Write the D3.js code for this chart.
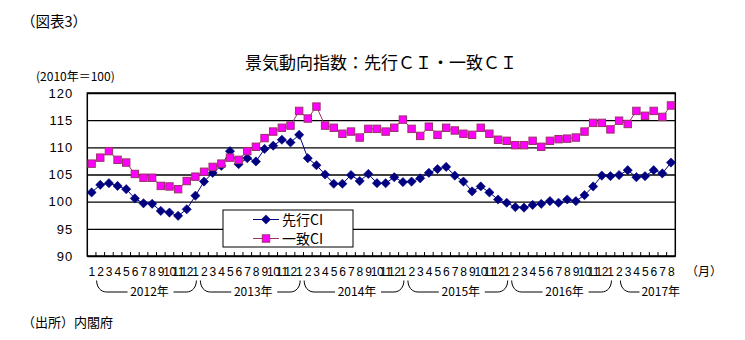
<!DOCTYPE html>
<html>
<head>
<meta charset="utf-8">
<script src="https://cdn.jsdelivr.net/npm/d3@7"></script>
<style>
  html, body { margin: 0; padding: 0; background: #fff; }
  svg { display: block; }
  text { font-family: "Noto Sans CJK JP", "Noto Sans", sans-serif; fill: #000; }
</style>
</head>
<body>
<svg id="chart" width="745" height="340"></svg>
<script>
// Monthly tick labels, Jan 2012 – Aug 2017
const monthTicks = [
  1,2,3,4,5,6,7,8,9,10,11,12,
  1,2,3,4,5,6,7,8,9,10,11,12,
  1,2,3,4,5,6,7,8,9,10,11,12,
  1,2,3,4,5,6,7,8,9,10,11,12,
  1,2,3,4,5,6,7,8,9,10,11,12,
  1,2,3,4,5,6,7,8
];
const yearLabels = ["2012年", "2013年", "2014年", "2015年", "2016年", "2017年"];
const yTicks = [90, 95, 100, 105, 110, 115, 120];

// 先行CI (leading index, 2010=100)
const leadingCI = [
  101.7, 103.1, 103.4, 102.9, 102.3, 100.6, 99.7, 99.6, 98.3, 98.0, 97.4, 98.6,
  101.1, 103.7, 105.3, 106.6, 109.3, 106.9, 108.0, 107.4, 109.7, 110.3, 111.4, 110.9,
  112.3, 108.0, 106.7, 105.0, 103.3, 103.3, 104.9, 103.8, 105.1, 103.4, 103.4, 104.5,
  103.6, 103.7, 104.3, 105.3, 106.0, 106.4, 104.8, 103.7, 101.9, 102.8, 101.7, 100.4,
  99.8, 99.0, 98.9, 99.4, 99.6, 100.1, 99.8, 100.4, 100.1, 101.2, 102.8, 104.8,
  104.7, 104.9, 105.8, 104.5, 104.7, 105.8, 105.2, 107.2
];

// 一致CI (coincident index, 2010=100)
const coincidentCI = [
  107.0, 108.1, 109.3, 107.7, 107.2, 105.1, 104.4, 104.4, 102.9, 102.8, 102.3, 103.8,
  104.6, 105.5, 106.4, 107.0, 108.1, 107.7, 109.3, 110.1, 111.7, 112.9, 113.6, 114.0,
  116.7, 115.3, 117.5, 114.0, 113.6, 112.5, 112.9, 111.8, 113.4, 113.4, 112.9, 113.6,
  115.1, 113.4, 112.1, 113.8, 112.3, 113.6, 113.1, 112.5, 112.3, 113.6, 112.5, 111.4,
  111.2, 110.4, 110.4, 111.2, 110.1, 111.2, 111.5, 111.6, 111.8, 112.9, 114.5, 114.5,
  113.3, 114.9, 114.3, 116.7, 115.8, 116.7, 115.6, 117.7
];

const svg = d3.select("#chart");

const plot = { left: 87.3, right: 675.3, top: 93, bottom: 256 };

const x = d3.scaleBand()
  .domain(d3.range(monthTicks.length))
  .range([plot.left, plot.right])
  .padding(0);
const cx = i => x(i) + x.bandwidth() / 2;

const y = d3.scaleLinear()
  .domain([90, 120])
  .range([plot.bottom, plot.top]);

// Headings
svg.append("text")
  .attr("x", 21).attr("y", 27)
  .style("font-size", "14.5px")
  .text("（図表3）");

svg.append("text")
  .attr("x", 381).attr("y", 69)
  .attr("text-anchor", "middle")
  .style("font-size", "17px")
  .text("景気動向指数：先行ＣＩ・一致ＣＩ");

svg.append("text")
  .attr("x", 36).attr("y", 81)
  .style("font-size", "12px")
  .text("(2010年＝100)");

// Horizontal gridlines and y labels
const yAxis = d3.axisLeft(y)
  .tickValues(yTicks)
  .tickSize(-(plot.right - plot.left))
  .tickPadding(14)
  .tickFormat(d3.format("d"));

const gy = svg.append("g")
  .attr("transform", `translate(${plot.left},0)`)
  .call(yAxis);
gy.select(".domain").remove();
gy.selectAll(".tick line").attr("stroke", "#000").attr("stroke-width", 1.3);
gy.selectAll(".tick text")
  .style("font-size", "13px")
  .style("letter-spacing", "1px")
  .style("font-family", "'Liberation Sans', sans-serif");

// Plot frame
svg.append("rect")
  .attr("x", plot.left).attr("y", plot.top)
  .attr("width", plot.right - plot.left)
  .attr("height", plot.bottom - plot.top)
  .attr("fill", "none")
  .attr("stroke", "#000")
  .attr("stroke-width", 1.5);

// Month boundary ticks (inside the frame)
const bounds = d3.range(1, monthTicks.length);
svg.append("g").selectAll("line")
  .data(bounds)
  .join("line")
  .attr("x1", i => x(i)).attr("x2", i => x(i))
  .attr("y1", plot.bottom).attr("y2", plot.bottom - 4)
  .attr("stroke", "#000").attr("stroke-width", 1);

// Month labels
svg.append("g").selectAll("text")
  .data(monthTicks)
  .join("text")
  .attr("x", (d, i) => cx(i))
  .attr("y", 276)
  .attr("text-anchor", "middle")
  .style("font-size", "12px")
  .style("letter-spacing", "-0.5px")
  .style("font-family", "'Liberation Sans', sans-serif")
  .text(d => d);

svg.append("text")
  .attr("x", 686).attr("y", 276)
  .style("font-size", "12px")
  .text("（月）");

// Year brackets: rounded hooks rising toward the month labels
const lineY = 292, topY = 280.5, hook = 10;
const hookDown = x0 => `M${x0},${topY} C${x0},${lineY - 5} ${x0 + 4},${lineY} ${x0 + hook},${lineY}`;
const hookUp = x1 => `C${x1 - 4},${lineY} ${x1},${lineY - 5} ${x1},${topY}`;

yearLabels.forEach((label, k) => {
  const start = k * 12;
  const closed = start + 12 < monthTicks.length;
  const g = svg.append("g").attr("fill", "none").attr("stroke", "#000").attr("stroke-width", 1);
  if (closed) {
    const x0 = cx(start) + 5;
    const x1 = cx(start + 12) + 1;
    const mid = (x0 + x1) / 2 + 3;
    g.append("path").attr("d", `${hookDown(x0)} L${mid - 22},${lineY}`);
    g.append("path").attr("d", `M${mid + 24},${lineY} L${x1 - hook},${lineY} ${hookUp(x1)}`);
    svg.append("text")
      .attr("x", mid).attr("y", lineY + 4)
      .attr("text-anchor", "middle")
      .style("font-size", "12px")
      .text(label);
  } else {
    const x0 = cx(start) + 10;
    g.append("path").attr("d", `${hookDown(x0)} L${x0 + 19},${lineY}`);
    svg.append("text")
      .attr("x", x0 + 21).attr("y", lineY + 4)
      .style("font-size", "12px")
      .text(label);
  }
});

// Series lines and markers
const line = d3.line().x((d, i) => cx(i)).y(d => y(d));
const diamond = s => `M0,${-s}L${s},0L0,${s}L${-s},0Z`;

svg.append("path")
  .datum(leadingCI)
  .attr("d", line)
  .attr("fill", "none").attr("stroke", "#000080").attr("stroke-width", 1);

svg.append("path")
  .datum(coincidentCI)
  .attr("d", line)
  .attr("fill", "none").attr("stroke", "#993366").attr("stroke-width", 1);

svg.append("g").selectAll("path")
  .data(leadingCI)
  .join("path")
  .attr("transform", (d, i) => `translate(${cx(i)},${y(d)})`)
  .attr("d", diamond(4.6))
  .attr("fill", "#000080").attr("stroke", "#000080").attr("stroke-width", 0.6);

svg.append("g").selectAll("rect")
  .data(coincidentCI)
  .join("rect")
  .attr("x", (d, i) => cx(i) - 3.7)
  .attr("y", d => y(d) - 3.7)
  .attr("width", 7.4).attr("height", 7.4)
  .attr("fill", "#FF00FF").attr("stroke", "#993366").attr("stroke-width", 1);

// Legend
const legend = svg.append("g");
legend.append("rect")
  .attr("x", 223).attr("y", 210)
  .attr("width", 130).attr("height", 37)
  .attr("fill", "#fff").attr("stroke", "#000").attr("stroke-width", 1);

const legendItems = [
  { name: "先行CI", color: "#000080", kind: "diamond" },
  { name: "一致CI", color: "#993366", kind: "square" }
];
legendItems.forEach((item, k) => {
  const ly = 219.5 + k * 19;
  legend.append("line")
    .attr("x1", 253).attr("x2", 279)
    .attr("y1", ly).attr("y2", ly)
    .attr("stroke", item.color).attr("stroke-width", 1);
  if (item.kind === "diamond") {
    legend.append("path")
      .attr("transform", `translate(266,${ly})`)
      .attr("d", diamond(4.6))
      .attr("fill", "#000080").attr("stroke", "#000080").attr("stroke-width", 0.6);
  } else {
    legend.append("rect")
      .attr("x", 266 - 3.7).attr("y", ly - 3.7)
      .attr("width", 7.4).attr("height", 7.4)
      .attr("fill", "#FF00FF").attr("stroke", "#993366").attr("stroke-width", 1);
  }
  legend.append("text")
    .attr("x", 282).attr("y", ly + 5)
    .style("font-size", "14px")
    .text(item.name);
});

// Source note
svg.append("text")
  .attr("x", 22).attr("y", 327)
  .style("font-size", "13px")
  .text("（出所）内閣府");
</script>
</body>
</html>
